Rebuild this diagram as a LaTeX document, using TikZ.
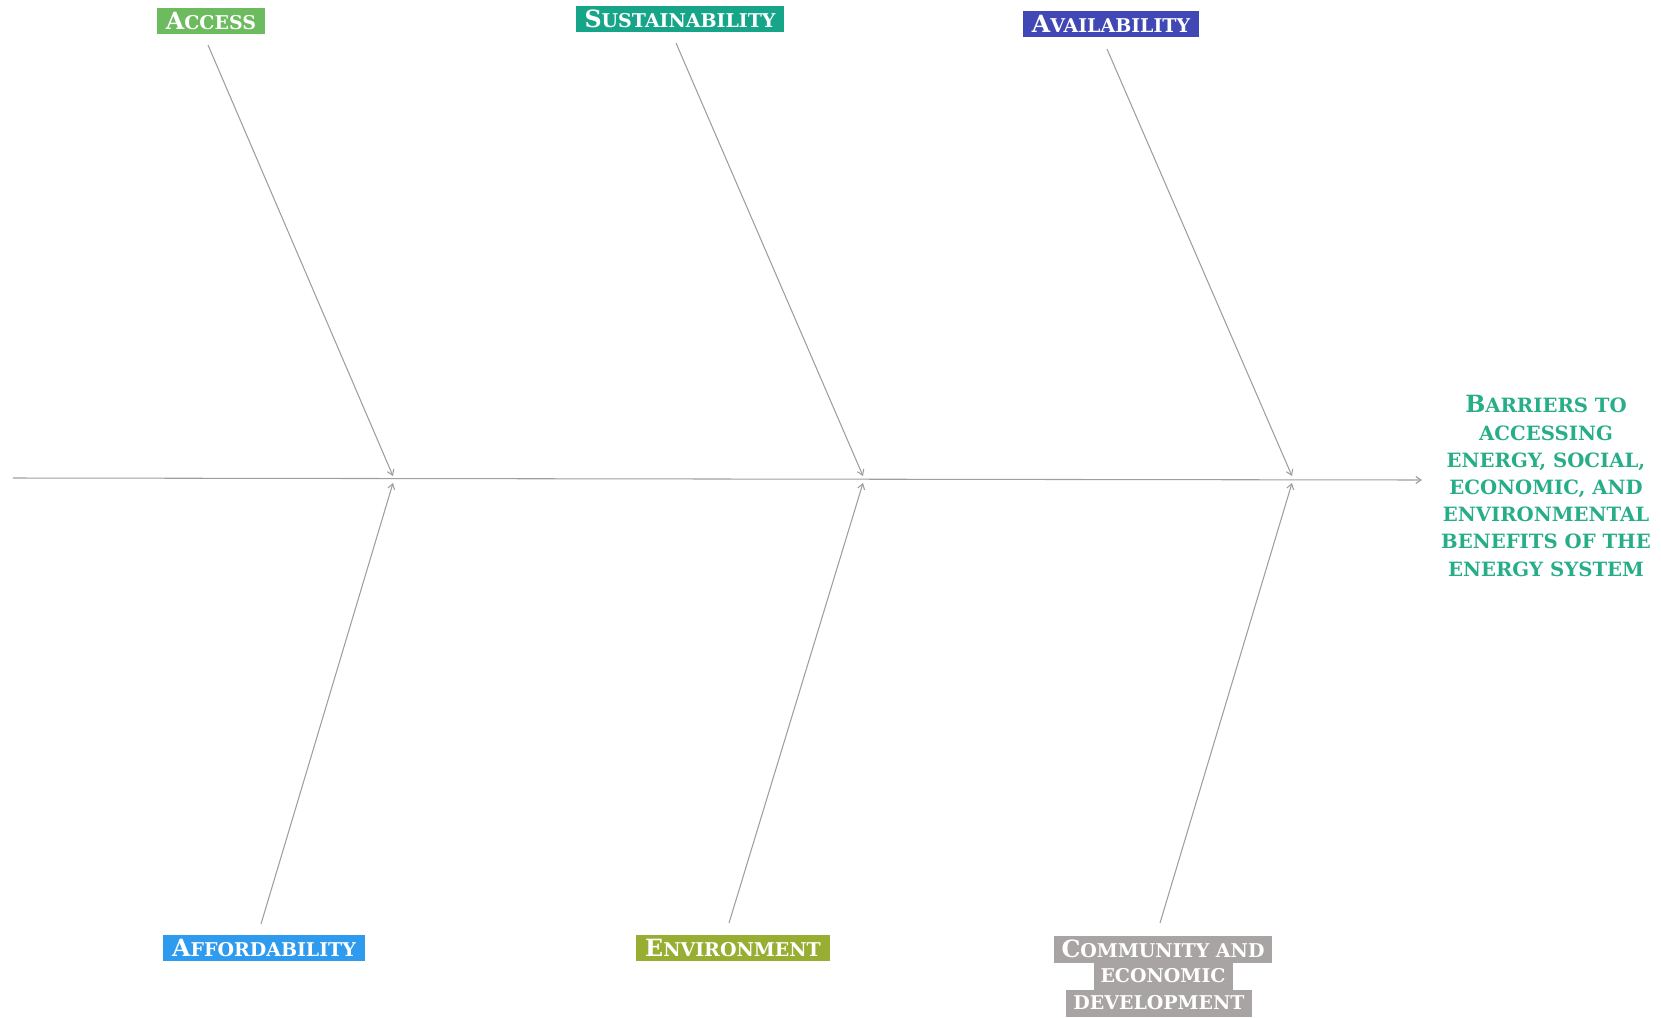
\documentclass[tikz,border=0pt]{standalone}
\usepackage{fontspec}
\setmainfont{DejaVu Serif}
\usepackage{tikz}
\usetikzlibrary{arrows.meta}
\usepackage{xcolor}
\definecolor{accessgreen}{HTML}{6CBB5F}
\definecolor{sustainteal}{HTML}{17A589}
\definecolor{availblue}{HTML}{4148B5}
\definecolor{affordblue}{HTML}{2F9BEF}
\definecolor{envolive}{HTML}{97AE33}
\definecolor{commgray}{HTML}{A9A4A4}
\definecolor{effectgreen}{HTML}{27AE88}
\definecolor{bonegray}{HTML}{9E9E9E}
% big first letter, rest in small capitals
\newcommand{\capsc}[2]{{\fontsize{13.5}{15.5}\selectfont #1}{\fontsize{10.8}{15.5}\selectfont #2}}
\newcommand{\smc}[1]{{\fontsize{10.8}{15.5}\selectfont #1}}
\newcommand{\bigsc}[2]{{\fontsize{13.5}{15.5}\selectfont #1}{\fontsize{11.2}{15.5}\selectfont #2}}
\newcommand{\medsc}[1]{{\fontsize{11.2}{15.5}\selectfont #1}}

\begin{document}
\begin{tikzpicture}[x=0.02cm,y=-0.02cm,>={Straight Barb[length=3pt,width=4pt]},
  catbox/.style={fill=#1, text=white, font=\bfseries, inner xsep=5pt, inner ysep=2.5pt},
  linebox/.style={fill=commgray, text=white, font=\bfseries, inner xsep=4pt, inner ysep=0pt, minimum height=0.54cm},
  bone/.style={draw=bonegray, line width=0.6pt}]
\useasboundingbox (0,0) rectangle (1661,1018);
% categories
\node[catbox=accessgreen] (access) at (211,21) {\capsc{A}{CCESS}};
\node[catbox=sustainteal] (sustain) at (680,19) {\capsc{S}{USTAINABILITY}};
\node[catbox=availblue] (avail) at (1111,24) {\capsc{A}{VAILABILITY}};
\node[catbox=affordblue] (afford) at (264,948) {\capsc{A}{FFORDABILITY}};
\node[catbox=envolive] (env) at (733,948) {\capsc{E}{NVIRONMENT}};
\node[linebox] (comm1) at (1163,949) {\capsc{C}{OMMUNITY AND}};
\node[linebox] (comm2) at (1163,976) {\smc{ECONOMIC}};
\node[linebox] (comm3) at (1159,1003) {\smc{DEVELOPMENT}};
% effect
\node[text=effectgreen, align=center, font=\bfseries\fontsize{11.2}{15.5}\selectfont] (effect) at (1546,486)
  {\bigsc{B}{ARRIERS TO}\\ \medsc{ACCESSING}\\ \medsc{ENERGY, SOCIAL,}\\ \medsc{ECONOMIC, AND}\\
   \medsc{ENVIRONMENTAL}\\ \medsc{BENEFITS OF THE}\\ \medsc{ENERGY SYSTEM}};
% spine
\coordinate (tail) at (13,478);
\coordinate (head) at (1422,480);
\draw[bone,->] (tail) -- (head);
% joints on the spine
\coordinate (j1a) at (393,476);
\coordinate (j1b) at (393,483);
\coordinate (j2a) at (863,476);
\coordinate (j2b) at (863,483);
\coordinate (j3a) at (1292,476);
\coordinate (j3b) at (1292,483);
% rib starts
\coordinate (r1) at (208,45);
\coordinate (r2) at (676,43);
\coordinate (r3) at (1107,49);
\coordinate (r4) at (261,924);
\coordinate (r5) at (729,923);
\coordinate (r6) at (1160,923);
\draw[bone,->] (r1) -- (j1a);
\draw[bone,->] (r2) -- (j2a);
\draw[bone,->] (r3) -- (j3a);
\draw[bone,->] (r4) -- (j1b);
\draw[bone,->] (r5) -- (j2b);
\draw[bone,->] (r6) -- (j3b);
\end{tikzpicture}
\end{document}
